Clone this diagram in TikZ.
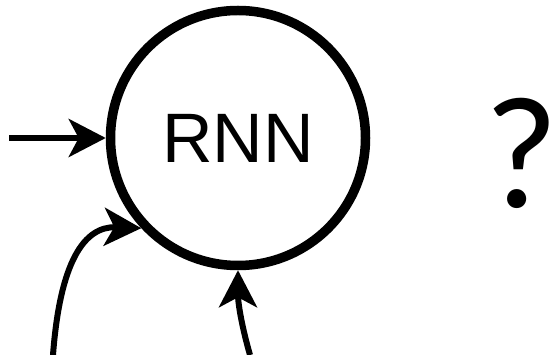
\documentclass[tikz,border=0pt]{standalone}
\usepackage{fontspec}
\usetikzlibrary{arrows.meta}
\newfontfamily\rnnfont{Liberation Sans}
\newfontfamily\askfont{Carlito}

\begin{document}
\begin{tikzpicture}[x=1pt,y=-1pt,
  conn/.style={line width=6pt,-{Stealth[length=37pt,width=38pt,inset=10pt]}}]
\path[use as bounding box] (0,0) rectangle (551,355);
\node[circle,draw,line width=9.5pt,minimum size=255pt,inner sep=0pt,font=\rnnfont\fontsize{70}{80}\selectfont] (rnn) at (238,138) {RNN};
\node[anchor=base,inner sep=0pt,font=\askfont\fontsize{160}{170}\selectfont] (ask) at (521.5,208) {?};
\coordinate (in0) at (9,138);
\coordinate (in1) at (53,355);
\coordinate (in2) at (250,355);
\draw[conn] (in0) -- (rnn.west);
\draw[conn] (in1) .. controls (60,262) and (84,226) .. (rnn.223);
\draw[conn] (in2) .. controls (240,320) and (238,300) .. (rnn.south);
\end{tikzpicture}
\end{document}
